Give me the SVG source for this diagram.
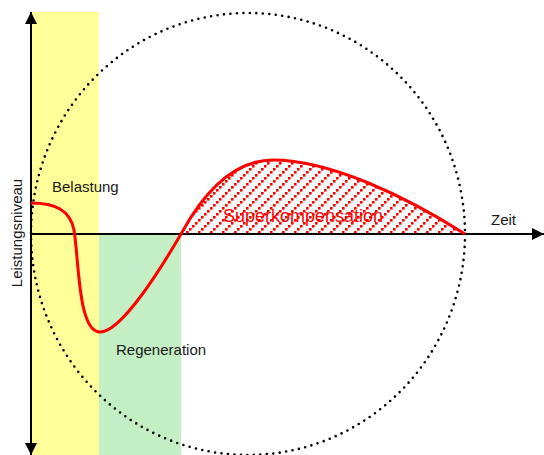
<svg xmlns="http://www.w3.org/2000/svg" width="544" height="455" viewBox="0 0 544 455">
<style>
.lbl{font-family:"Liberation Sans",Arial,sans-serif;font-size:15px;fill:#1a1a1a}
.red{font-family:"Liberation Sans",Arial,sans-serif;font-size:18px;fill:#ff0000}
.axis{stroke:#000;stroke-width:2;fill:none}
.hq{fill:#ff0000}
</style>
<defs>
<pattern id="hatch" patternUnits="userSpaceOnUse" width="12" height="12">
<rect class="hq" x="0" y="9" width="2.6" height="2.6"/>
<rect class="hq" x="3" y="6" width="2.6" height="2.6"/>
<rect class="hq" x="6" y="3" width="2.6" height="2.6"/>
<rect class="hq" x="9" y="0" width="2.6" height="2.6"/>
</pattern>
<marker id="arr" viewBox="0 0 12 12" refX="12" refY="6" markerWidth="12" markerHeight="12" markerUnits="userSpaceOnUse" orient="auto">
<path d="M0,0 L12,6 L0,12 Z" fill="#000"/>
</marker>
</defs>
<rect width="544" height="455" fill="#fff"/>
<g id="phase-belastung">
<rect x="31" y="12" width="68" height="443" fill="#ffff99"/>
</g>
<g id="phase-regeneration">
<rect x="99" y="234" width="82" height="221" fill="#c4eec4"/>
</g>
<g id="cycle">
<ellipse cx="248" cy="234" rx="217" ry="221" fill="none" stroke="#000" stroke-width="2.6" stroke-dasharray="0 6.5" stroke-linecap="round"/>
</g>
<g id="superkompensation-area">
<path d="M181,234 C205,190 235,160 273,160 C330,160 405,196 465,234 Z" fill="url(#hatch)"/>
</g>
<g id="connectors">
<line class="axis" x1="31" y1="234" x2="31" y2="12" marker-end="url(#arr)"/>
<line class="axis" x1="31" y1="234" x2="31" y2="455" marker-end="url(#arr)"/>
<line class="axis" x1="31" y1="234" x2="544" y2="234" marker-end="url(#arr)"/>
</g>
<g id="curve">
<path d="M31,203 C55,203 70,210 74,230 C79,260 78,330 99,332 C120,334 160,270 181,234 C205,190 235,160 273,160 C330,160 405,196 465,234" fill="none" stroke="#ff0000" stroke-width="3"/>
</g>
<g id="labels">
<text class="lbl" x="52" y="192">Belastung</text>
<text class="lbl" x="116" y="355">Regeneration</text>
<text class="red" x="223" y="222">Superkompensation</text>
<text class="lbl" x="491" y="225">Zeit</text>
<text class="lbl" transform="translate(21.5,233) rotate(-90)" text-anchor="middle">Leistungsniveau</text>
</g>
</svg>
